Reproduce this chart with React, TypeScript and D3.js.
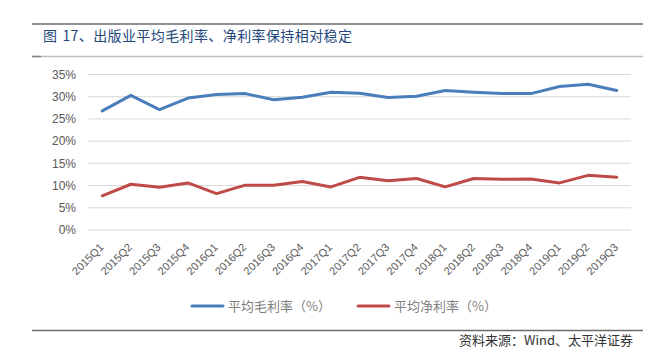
import React from "react";
import * as d3 from "d3";

const categories = [
  "2015Q1","2015Q2","2015Q3","2015Q4",
  "2016Q1","2016Q2","2016Q3","2016Q4",
  "2017Q1","2017Q2","2017Q3","2017Q4",
  "2018Q1","2018Q2","2018Q3","2018Q4",
  "2019Q1","2019Q2","2019Q3",
];
const grossMargin = [26.8, 30.3, 27.1, 29.7, 30.5, 30.7, 29.3, 29.9, 31.0, 30.8, 29.8, 30.1, 31.4, 31.0, 30.7, 30.7, 32.3, 32.8, 31.4];
const netMargin = [7.7, 10.3, 9.6, 10.6, 8.2, 10.1, 10.05, 10.9, 9.7, 11.85, 11.1, 11.6, 9.7, 11.6, 11.4, 11.5, 10.6, 12.3, 11.85];
const yTicks = [0, 5, 10, 15, 20, 25, 30, 35];
const seriesNames = ["平均毛利率（%）", "平均净利率（%）"];
const title = "图 17、出版业平均毛利率、净利率保持相对稳定";
const source = "资料来源：Wind、太平洋证券";

const W = 656, H = 363;
const colors = ["#4a7ebb", "#be4b48"];

export default function App() {
  const x = d3.scaleBand<string>().domain(categories).range([88, 631]);
  const y = d3.scaleLinear().domain([0, 35]).range([230, 74.5]);
  const line = d3
    .line<number>()
    .x((_, i) => (x(categories[i]) as number) + x.bandwidth() / 2)
    .y((v) => y(v));
  const series = [grossMargin, netMargin];
  const legendX = [192, 358];

  return (
    <svg
      width={W}
      height={H}
      style={{ position: "absolute", left: 0, top: 0, background: "#fff" }}
      fontFamily="'Liberation Sans', Arial, sans-serif"
    >
      <line x1={32} x2={643} y1={24} y2={24} stroke="#6b6b6b" strokeWidth={1.5} />
      <text
        x={43}
        y={41}
        fontSize={14}
        fill="#23477a"
        fontFamily="'Noto Sans CJK SC', sans-serif"
        letterSpacing={0.4}
      >
        <tspan>图</tspan>
        <tspan dx={5}>{title.slice(2)}</tspan>
      </text>
      <line x1={32} x2={643} y1={56.5} y2={56.5} stroke="#bfbfbf" strokeWidth={1.5} />
      <line x1={32} x2={41} y1={56.5} y2={56.5} stroke="#7f7f7f" strokeWidth={1.5} />

      {yTicks.map((t) => (
        <g key={t}>
          <line x1={88} x2={631} y1={y(t)} y2={y(t)} stroke="#d9d9d9" strokeWidth={1} />
          <text x={76} y={y(t)} dy="0.35em" textAnchor="end" fontSize={12} fill="#595959">
            {t}%
          </text>
        </g>
      ))}

      {categories.map((c) => {
        const cx = (x(c) as number) + x.bandwidth() / 2;
        return (
          <text
            key={c}
            transform={`translate(${cx + 2},${248}) rotate(-45)`}
            textAnchor="end"
            fontSize={11}
            fill="#595959"
          >
            {c}
          </text>
        );
      })}

      {series.map((s, i) => (
        <path
          key={i}
          d={line(s) as string}
          fill="none"
          stroke={colors[i]}
          strokeWidth={3}
          strokeLinejoin="round"
          strokeLinecap="round"
        />
      ))}

      {seriesNames.map((n, i) => (
        <g key={n}>
          <line
            x1={legendX[i]}
            x2={legendX[i] + 31}
            y1={306}
            y2={306}
            stroke={colors[i]}
            strokeWidth={3}
            strokeLinecap="round"
          />
          <text
            x={legendX[i] + 36}
            y={306}
            dy="0.36em"
            fontSize={13}
            fill="#7f7f7f"
            fontFamily="'Noto Sans CJK SC', sans-serif"
          >
            {n}
          </text>
        </g>
      ))}

      <line x1={32} x2={643} y1={330.5} y2={330.5} stroke="#6b6b6b" strokeWidth={1.5} />
      <text
        x={633}
        y={340}
        dy="0.36em"
        textAnchor="end"
        fontSize={13}
        fill="#333"
        fontFamily="'Noto Sans CJK SC', sans-serif"
      >
        {source}
      </text>
    </svg>
  );
}
